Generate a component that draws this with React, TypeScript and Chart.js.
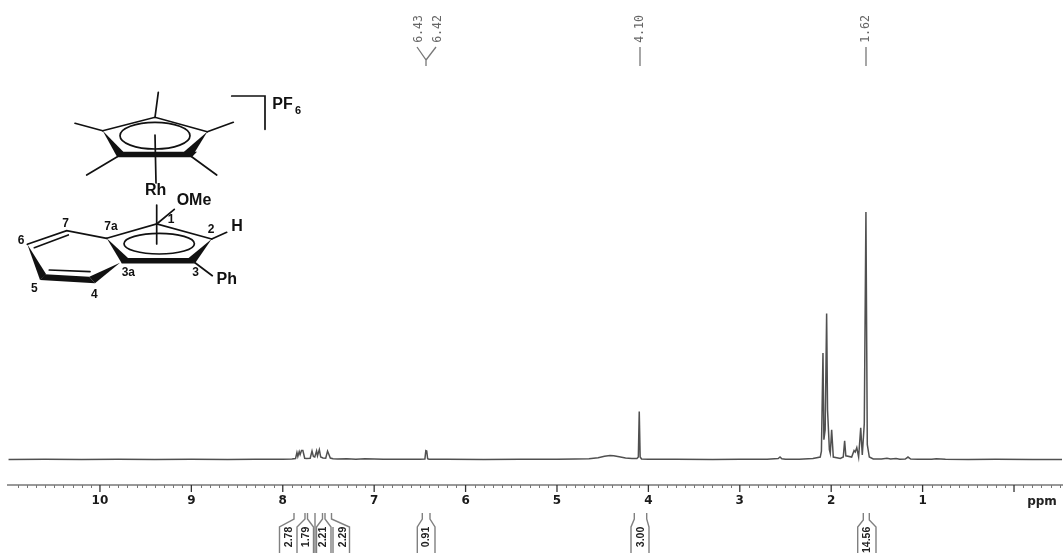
import React, { useEffect, useRef } from "react";
import { Chart, registerables } from "chart.js";

Chart.register(...registerables);

// Spectrum trace: chemical shift (ppm) and relative intensity (tallest peak = 100)
const shiftPpm = [
  11.0, 10.6, 10.2, 9.8, 9.4, 9.0, 8.6, 8.3, 8.0, 7.9,
  7.86, 7.845, 7.835, 7.82, 7.81, 7.795, 7.78, 7.76, 7.74, 7.7,
  7.68, 7.665, 7.65, 7.63, 7.62, 7.60, 7.585, 7.56, 7.53, 7.51,
  7.495, 7.48, 7.45, 7.4, 7.3, 7.2, 7.1, 6.9, 6.7, 6.5,
  6.445, 6.435, 6.425, 6.415, 6.40, 6.2, 5.8, 5.4, 5.0, 4.8,
  4.65, 4.55, 4.48, 4.42, 4.38, 4.32, 4.25, 4.18, 4.125, 4.11,
  4.10, 4.09, 4.075, 4.0, 3.7, 3.3, 3.0, 2.7, 2.58, 2.56,
  2.54, 2.5, 2.35, 2.2, 2.12, 2.107, 2.09, 2.08, 2.066, 2.05,
  2.04, 2.02, 2.01, 1.995, 1.977, 1.9, 1.868, 1.853, 1.84, 1.776,
  1.75, 1.737, 1.72, 1.70, 1.677, 1.66, 1.638, 1.62, 1.605, 1.583,
  1.54, 1.45, 1.39, 1.35, 1.29, 1.25, 1.19, 1.16, 1.13, 1.05,
  0.9, 0.85, 0.75, 0.5, 0.2, -0.2, -0.525,
];
const intensity = [
  0, 0.1, 0, 0.1, 0, 0.1, 0, 0.1, 0.1, 0.2,
  0.4, 2.8, 1.2, 3.2, 2.0, 3.6, 3.6, 0.5, 0.4, 0.5,
  3.4, 1.2, 1.0, 3.5, 1.5, 4.0, 1.0, 0.6, 0.5, 3.4,
  2.0, 0.6, 0.3, 0.2, 0.3, 0.1, 0.3, 0.1, 0.1, 0.1,
  0.2, 3.6, 3.4, 0.3, 0.1, 0.1, 0, 0.1, 0.1, 0.2,
  0.3, 0.7, 1.3, 1.6, 1.5, 1.1, 0.6, 0.4, 0.4, 1.0,
  19.4, 1.0, 0.2, 0.1, 0.1, 0, 0.1, 0.1, 0.4, 1.0,
  0.3, 0.1, 0.1, 0.4, 1.0, 3.4, 43, 8, 12, 59,
  20, 4, 2.5, 12, 1.0, 0.4, 1.0, 7.6, 1.5, 1.0,
  3.6, 3.0, 4.8, 1.0, 12.8, 1.8, 14.5, 100, 6, 1.0,
  0.2, 0.2, 0.5, 0.2, 0.4, 0.1, 0.2, 1.0, 0.2, 0.1,
  0.1, 0.3, 0.1, 0, 0.1, 0, 0,
];

// Axis
const tickLabels = [10, 9, 8, 7, 6, 5, 4, 3, 2, 1];
const majorTickPpm = [10, 9, 8, 7, 6, 5, 4, 3, 2, 1, 0];
const minorTickPpm = [
  10.9, 10.8, 10.7, 10.6, 10.5, 10.4, 10.3, 10.2, 10.1,
  9.9, 9.8, 9.7, 9.6, 9.5, 9.4, 9.3, 9.2, 9.1,
  8.9, 8.8, 8.7, 8.6, 8.5, 8.4, 8.3, 8.2, 8.1,
  7.9, 7.8, 7.7, 7.6, 7.5, 7.4, 7.3, 7.2, 7.1,
  6.9, 6.8, 6.7, 6.6, 6.5, 6.4, 6.3, 6.2, 6.1,
  5.9, 5.8, 5.7, 5.6, 5.5, 5.4, 5.3, 5.2, 5.1,
  4.9, 4.8, 4.7, 4.6, 4.5, 4.4, 4.3, 4.2, 4.1,
  3.9, 3.8, 3.7, 3.6, 3.5, 3.4, 3.3, 3.2, 3.1,
  2.9, 2.8, 2.7, 2.6, 2.5, 2.4, 2.3, 2.2, 2.1,
  1.9, 1.8, 1.7, 1.6, 1.5, 1.4, 1.3, 1.2, 1.1,
  0.9, 0.8, 0.7, 0.6, 0.5, 0.4, 0.3, 0.2, 0.1,
  -0.1, -0.2, -0.3, -0.4, -0.5,
];

// Peak picks above the spectrum
const peakLabels = ["6.43", "6.42", "4.10", "1.62"];
const peakPpm = [6.43, 6.42, 4.1, 1.62];

// Integrals below the spectrum
const integralLabels = ["2.78", "1.79", "2.21", "2.29", "0.91", "3.00", "14.56"];

type Pt = [number, number];

function poly(ctx: CanvasRenderingContext2D, pts: Pt[], fill = false) {
  ctx.beginPath();
  pts.forEach((p, i) => (i ? ctx.lineTo(p[0], p[1]) : ctx.moveTo(p[0], p[1])));
  if (fill) {
    ctx.closePath();
    ctx.fill();
  } else ctx.stroke();
}

function label(ctx: CanvasRenderingContext2D, s: string, x: number, y: number, size: number) {
  ctx.font = `bold ${size}px "Liberation Sans"`;
  ctx.fillText(s, x, y);
}

const annotations = {
  id: "annotations",
  afterDraw(chart: any) {
    const { ctx, scales } = chart;
    const xs = scales.x;
    ctx.save();

    // minor and major ticks
    ctx.strokeStyle = "#777";
    ctx.lineWidth = 1;
    minorTickPpm.forEach((v) => {
      const px = Math.round(xs.getPixelForValue(v)) + 0.5;
      poly(ctx, [[px, 485], [px, 488]]);
    });
    ctx.strokeStyle = "#333";
    ctx.lineWidth = 1.3;
    majorTickPpm.forEach((v) => {
      const px = xs.getPixelForValue(v);
      poly(ctx, [[px, 485], [px, 492]]);
    });

    // ppm unit
    ctx.fillStyle = "#222";
    ctx.textAlign = "center";
    ctx.textBaseline = "middle";
    ctx.font = 'bold 12px "DejaVu Sans"';
    ctx.fillText("ppm", 1042, 501.5);

    // peak picks
    ctx.fillStyle = "#666";
    ctx.strokeStyle = "#777";
    peakLabels.forEach((s, i) => {
      const tx = i === 0 ? 419.3 : i === 1 ? 437.7 : xs.getPixelForValue(peakPpm[i]) + 0.5;
      ctx.save();
      ctx.translate(tx, 29);
      ctx.rotate(-Math.PI / 2);
      ctx.font = '11.5px "DejaVu Sans Mono"';
      ctx.fillText(s, 0, 0);
      ctx.restore();
    });
    ctx.lineWidth = 1.3;
    poly(ctx, [[417, 47], [426, 60], [426, 66]]);
    poly(ctx, [[436, 47], [426, 60]]);
    poly(ctx, [[640, 47], [640, 66]]);
    poly(ctx, [[866, 47], [866, 66]]);

    // integrals
    ctx.strokeStyle = "#808080";
    ctx.lineWidth = 1.4;
    const brackets: Pt[][] = [
      [[294, 513], [294, 519], [279.5, 527], [279.5, 553]],
      [[305, 513], [305, 519], [297, 527], [297, 553]],
      [[307.5, 513], [307.5, 519], [313.5, 527], [313.5, 553]],
      [[315, 513], [315, 553]],
      [[322.5, 513], [322.5, 519], [316.5, 527], [316.5, 553]],
      [[325, 513], [325, 519], [331, 527], [331, 553]],
      [[331.5, 513], [331.5, 519], [349.5, 527], [349.5, 553]],
      [[333, 527], [333, 553]],
      [[422.3, 513], [422.3, 519], [417.3, 527], [417.3, 553]],
      [[430, 513], [430, 519], [435, 527], [435, 553]],
      [[634.3, 513], [634.3, 519], [631, 527], [631, 553]],
      [[646.7, 513], [646.7, 519], [649, 527], [649, 553]],
      [[863.3, 513], [863.3, 520], [857.7, 527], [857.7, 553]],
      [[869.3, 513], [869.3, 520], [876, 527], [876, 553]],
    ];
    brackets.forEach((b) => poly(ctx, b));
    ctx.fillStyle = "#222";
    const labelX = [289.3, 306, 323.3, 342.7, 426, 640.7, 867.3];
    integralLabels.forEach((s, i) => {
      ctx.save();
      ctx.translate(labelX[i], 526.7);
      ctx.rotate(-Math.PI / 2);
      ctx.textAlign = "right";
      ctx.font = 'bold 10.5px "Liberation Sans"';
      ctx.fillText(s, 0, 0);
      ctx.restore();
    });

    // structure
    ctx.strokeStyle = "#111";
    ctx.fillStyle = "#111";
    ctx.lineWidth = 1.7;
    ctx.lineCap = "round";
    // Cp* ring
    poly(ctx, [[102.7, 130.7], [155, 117.3], [207.3, 131.7]]);
    poly(ctx, [[102.7, 130.7], [123.3, 151.7], [117.3, 157.3]], true);
    poly(ctx, [[117.3, 151.7], [197, 151.7], [191.7, 157.3], [117.3, 157.3]], true);
    poly(ctx, [[207.3, 131.7], [184, 151.7], [191.7, 157.3]], true);
    poly(ctx, [[155, 117.3], [158.3, 92.3]]);
    poly(ctx, [[102.7, 130.7], [75, 123.3]]);
    poly(ctx, [[207.3, 131.7], [233.3, 122.3]]);
    poly(ctx, [[117.3, 156.7], [86.7, 175]]);
    poly(ctx, [[191.7, 156.7], [216.7, 175]]);
    ctx.beginPath();
    ctx.ellipse(155, 135.7, 35, 13.3, 0, 0, Math.PI * 2);
    ctx.stroke();
    poly(ctx, [[155, 135], [156, 183]]);
    // PF6 bracket
    poly(ctx, [[231.7, 96], [265, 96], [265, 129.3]]);
    // indenyl five-membered ring
    poly(ctx, [[106.7, 238.3], [156.7, 224], [211.7, 239]]);
    poly(ctx, [[106.7, 238.3], [128.3, 258.3], [121.7, 263.3]], true);
    poly(ctx, [[121.7, 258], [190, 258], [195, 263.5], [121.7, 263.5]], true);
    poly(ctx, [[211.7, 239], [188.3, 258.3], [195, 263.3]], true);
    ctx.beginPath();
    ctx.ellipse(159.2, 243.7, 35.2, 10.3, 0, 0, Math.PI * 2);
    ctx.stroke();
    poly(ctx, [[156.7, 205], [156.7, 244]]);
    poly(ctx, [[156.7, 224], [174.3, 209.3]]);
    poly(ctx, [[211.7, 239], [226.7, 232.3]]);
    poly(ctx, [[195, 262.7], [212.3, 275.7]]);
    // six-membered ring
    poly(ctx, [[106.7, 238.3], [66.7, 230.7], [27.3, 244.3]]);
    poly(ctx, [[34.3, 247.7], [68.3, 235]]);
    poly(ctx, [[27.3, 244.3], [40, 280], [46, 274]], true);
    poly(ctx, [[45, 274.3], [89.3, 276.7], [95, 283.3], [40, 280]], true);
    poly(ctx, [[89.3, 276.7], [95, 283.3], [120, 262.7]], true);
    poly(ctx, [[49.3, 270], [90, 271.7]]);

    ctx.textAlign = "center";
    label(ctx, "Rh", 155.7, 191, 16);
    label(ctx, "OMe", 194, 201, 16);
    label(ctx, "H", 237, 227, 16);
    label(ctx, "Ph", 226.7, 279.5, 16);
    label(ctx, "PF", 282.5, 105, 16);
    label(ctx, "6", 298, 111, 11);
    label(ctx, "7", 65.7, 223.3, 12);
    label(ctx, "7a", 111, 226.7, 12);
    label(ctx, "1", 171, 220, 12);
    label(ctx, "2", 211, 229.3, 12);
    label(ctx, "6", 21, 241, 12);
    label(ctx, "5", 34.3, 288.3, 12);
    label(ctx, "4", 94.3, 295, 12);
    label(ctx, "3a", 128.3, 272.7, 12);
    label(ctx, "3", 195.7, 272.3, 12);
    ctx.restore();
  },
};

export default function App() {
  const ref = useRef<HTMLCanvasElement>(null);
  useEffect(() => {
    const chart = new Chart(ref.current!, {
      type: "line",
      data: {
        datasets: [
          {
            data: shiftPpm.map((x, i) => ({ x, y: intensity[i] })),
            borderColor: "#505050",
            borderWidth: 1.5,
            pointRadius: 0,
            tension: 0,
          },
        ],
      },
      options: {
        animation: false,
        responsive: false,
        devicePixelRatio: 1,
        layout: { padding: { left: 8, right: 1, top: 0, bottom: 0 } },
        plugins: { legend: { display: false }, tooltip: { enabled: false } },
        scales: {
          x: {
            type: "linear",
            reverse: true,
            min: -0.525,
            max: 11.006,
            afterFit: (s: any) => {
              s.height = 72;
              s.paddingLeft = 0;
              s.paddingRight = 0;
            },
            border: { display: true, color: "#999", width: 2 },
            grid: { drawOnChartArea: false, drawTicks: false },
            ticks: {
              stepSize: 1,
              autoSkip: false,
              maxRotation: 0,
              padding: 9,
              color: "#1a1a1a",
              font: { family: "DejaVu Sans", weight: "bold", size: 12 },
              callback: (v: any) => (tickLabels.includes(v) ? String(v) : ""),
            },
          },
          y: { display: false, min: -10.3, max: 185.66 },
        },
      },
      plugins: [annotations],
    } as any);
    return () => chart.destroy();
  }, []);
  return (
    <canvas
      ref={ref}
      width={1063}
      height={557}
      style={{
        position: "absolute",
        left: 0,
        top: 0,
        width: 1063,
        height: 557,
        display: "block",
        filter: "blur(0.4px)",
      }}
    />
  );
}
